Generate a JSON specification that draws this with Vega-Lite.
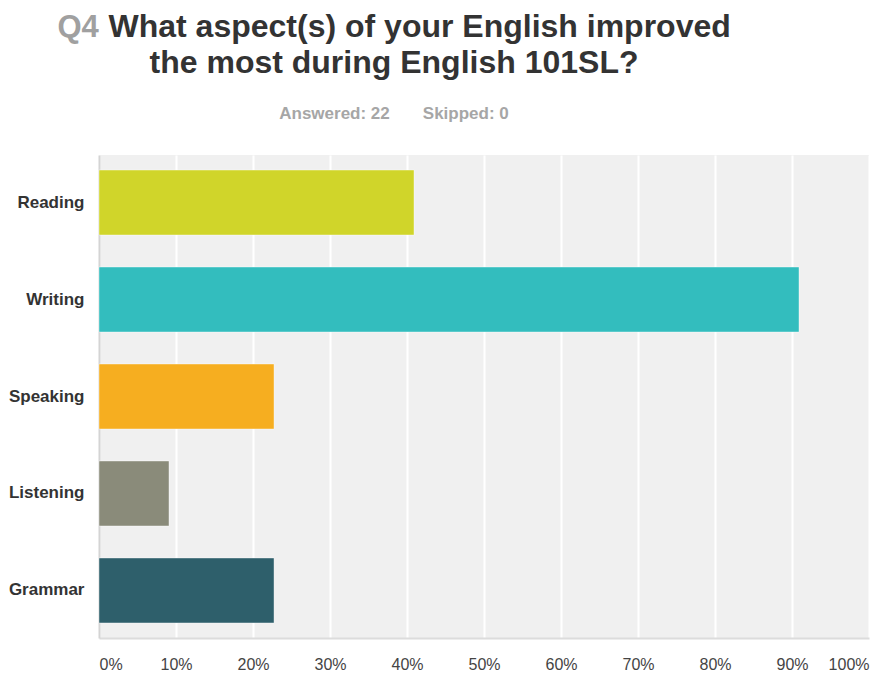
{
  "$schema": "https://vega.github.io/schema/vega-lite/v6.json",
  "autosize": {"type": "none"},
  "width": 770,
  "height": 483,
  "padding": {"left": 99, "top": 155, "right": 11, "bottom": 39},
  "background": "white",
  "title": {
    "text": "the most during English 101SL?",
    "subtitle": "Answered: 22\u00a0\u00a0\u00a0\u00a0\u00a0\u00a0\u00a0Skipped: 0",
    "anchor": "middle",
    "frame": "group",
    "dx": -90,
    "dy": 113,
    "font": "Liberation Sans",
    "fontSize": 32,
    "fontWeight": "bold",
    "color": "#333333",
    "subtitleFont": "Liberation Sans",
    "subtitleFontSize": 17,
    "subtitleFontWeight": "bold",
    "subtitleColor": "#a6a6a6",
    "subtitlePadding": 26,
    "offset": 0
  },
  "data": {
    "values": [
      {"aspect": "Reading", "pct": 0.4091},
      {"aspect": "Writing", "pct": 0.9091},
      {"aspect": "Speaking", "pct": 0.2273},
      {"aspect": "Listening", "pct": 0.0909},
      {"aspect": "Grammar", "pct": 0.2273}
    ]
  },
  "mark": {"type": "bar", "stroke": "white", "strokeOpacity": 0.4, "strokeWidth": 1},
  "encoding": {
    "y": {
      "field": "aspect",
      "type": "nominal",
      "sort": null,
      "scale": {"paddingInner": 0.33, "paddingOuter": 0.155},
      "axis": {
        "title": "Q4",
        "titleAngle": 0,
        "titleAlign": "left",
        "titleBaseline": "alphabetic",
        "titleX": -42,
        "titleY": -119,
        "titleFont": "Liberation Sans",
        "titleFontSize": 31,
        "titleFontWeight": "bold",
        "titleColor": "#a0a0a0",
        "labelFont": "Liberation Sans",
        "labelFontSize": 17,
        "labelFontWeight": "bold",
        "labelColor": "#333333",
        "labelPadding": 15,
        "ticks": false,
        "domainColor": "#d4d4d4",
        "domainWidth": 2,
        "grid": false
      }
    },
    "x": {
      "field": "pct",
      "type": "quantitative",
      "scale": {"domain": [0, 1]},
      "axis": {
        "title": "What aspect(s) of your English improved",
        "titleAnchor": "start",
        "titleAlign": "left",
        "titleBaseline": "alphabetic",
        "titleAngle": 0,
        "titleX": 9,
        "titleY": -602,
        "titleFont": "Liberation Sans",
        "titleFontSize": 32,
        "titleFontWeight": "bold",
        "titleColor": "#333333",
        "format": ".0%",
        "values": [0, 0.1, 0.2, 0.3, 0.4, 0.5, 0.6, 0.7, 0.8, 0.9, 1],
        "labelFont": "Liberation Sans",
        "labelFontSize": 16,
        "labelColor": "#444444",
        "labelPadding": 18,
        "labelFlush": true,
        "ticks": false,
        "domainColor": "#dcdcdc",
        "domainWidth": 2,
        "grid": true,
        "gridColor": "white",
        "gridWidth": 2
      }
    },
    "color": {
      "field": "aspect",
      "type": "nominal",
      "sort": null,
      "scale": {
        "domain": ["Reading", "Writing", "Speaking", "Listening", "Grammar"],
        "range": ["#d0d52a", "#33bdbe", "#f6ae20", "#8a8b7a", "#2e5f6b"]
      },
      "legend": null
    }
  },
  "config": {
    "view": {"fill": "#f0f0f0", "stroke": null},
    "font": "Liberation Sans"
  }
}
